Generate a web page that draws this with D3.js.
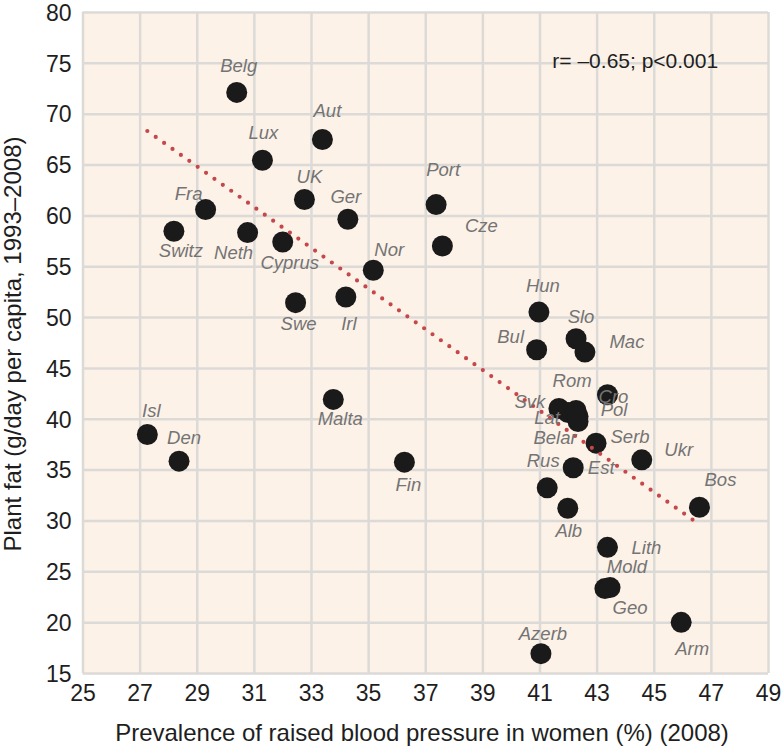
<!DOCTYPE html>
<html lang="en">
<head>
  <meta charset="UTF-8" />
  <title>Plant fat vs raised blood pressure</title>
  <script src="https://d3js.org/d3.v7.min.js"></script>
  <style>
    body {
      margin: 0;
      background: #ffffff;
      font-family: "Liberation Sans", Arial, sans-serif;
    }
    svg {
      display: block;
    }
  </style>
</head>
<body>
  <svg width="782" height="748"></svg>

  <script>
    // Country codes, as printed on the chart
    const countries = [
      "Belg", "Aut", "Lux", "UK", "Fra", "Ger", "Switz", "Neth", "Cyprus",
      "Port", "Cze", "Nor", "Swe", "Irl", "Malta", "Isl", "Den", "Fin",
      "Hun", "Bul", "Slo", "Mac", "Cro", "Svk", "Lat", "Rom", "Pol", "Belar",
      "Serb", "Ukr", "Est", "Rus", "Alb", "Lith", "Mold", "Geo", "Arm",
      "Azerb", "Bos"
    ];
    // Prevalence of raised blood pressure in women (%), 2008
    const bpWomen = [
      30.40, 33.40, 31.30, 32.77, 29.31, 34.29, 28.20, 30.78, 32.01,
      37.38, 37.60, 35.18, 32.46, 34.22, 33.78, 27.27, 28.38, 36.27,
      40.98, 40.90, 42.28, 42.59, 43.38, 41.68, 42.00, 42.28, 42.35, 42.35,
      42.98, 44.58, 42.18, 41.27, 41.99, 43.38, 43.29, 43.47, 45.96,
      41.05, 46.60
    ];
    // Plant fat (g/day per capita, 1993-2008)
    const plantFat = [
      72.09, 67.46, 65.42, 61.56, 60.57, 59.62, 58.44, 58.31, 57.38,
      61.06, 56.99, 54.60, 51.42, 51.97, 41.90, 38.45, 35.83, 35.73,
      50.49, 46.79, 47.87, 46.56, 42.36, 41.01, 40.62, 40.82, 40.23, 39.73,
      37.60, 35.96, 35.18, 33.21, 31.20, 27.36, 23.30, 23.40, 19.98,
      16.90, 31.30
    ];
    // Fitted regression line (end points)
    const trendX = [27.27, 46.40];
    const trendY = [68.3, 30.0];

    const xTicks = d3.range(25, 50, 2);
    const yTicks = d3.range(15, 81, 5);

    // label placement, offset from the dot centre (text centre x, baseline y)
    const labelPos = {
      Belg: [2, -20], Aut: [5, -23], Lux: [1, -21], UK: [5, -17], Fra: [-17, -10],
      Ger: [-2, -16], Switz: [7, 26], Neth: [-14, 26], Cyprus: [7, 27],
      Port: [7, -29], Cze: [39, -14], Nor: [16, -14], Swe: [3, 27], Irl: [3, 33],
      Malta: [7, 26], Isl: [4, -18], Den: [5, -17], Fin: [4, 29],
      Hun: [4, -20], Bul: [-26, -7], Slo: [5, -16], Mac: [42, -4], Cro: [6, 8],
      Svk: [-29, 0], Lat: [-21, 12], Rom: [-4, -23], Pol: [36, 0], Belar: [-23, 22],
      Serb: [34, 0], Ukr: [37, -4], Est: [28, 6], Rus: [-4, -21], Alb: [1, 29],
      Lith: [39, 7], Mold: [22, -16], Geo: [20, 26], Arm: [11, 33],
      Azerb: [2, -14], Bos: [21, -21]
    };

    const svg = d3.select("svg");
    const margin = { top: 12, right: 14, bottom: 75, left: 82.5 };
    const width = 782 - margin.left - margin.right;
    const height = 748 - margin.top - margin.bottom;

    const g = svg.append("g")
      .attr("transform", `translate(${margin.left},${margin.top})`);

    const x = d3.scaleLinear().domain([25, 49]).range([0, width]);
    const y = d3.scaleLinear().domain([15, 80]).range([height, 0]);

    // panel background
    g.append("rect")
      .attr("width", width)
      .attr("height", height)
      .attr("fill", "#fdf2e8");

    // grid
    const xAxis = g.append("g")
      .attr("transform", `translate(0,${height})`)
      .call(d3.axisBottom(x).tickValues(xTicks).tickSize(-height).tickPadding(12));
    const yAxis = g.append("g")
      .call(d3.axisLeft(y).tickValues(yTicks).tickSize(-width).tickPadding(11));

    [xAxis, yAxis].forEach(ax => {
      ax.select(".domain").remove();
      ax.selectAll(".tick line")
        .attr("stroke", "#dcdad7")
        .attr("stroke-width", 2.5);
      ax.selectAll(".tick text")
        .attr("fill", "#1e1e1e")
        .style("font-family", "'Liberation Sans', Arial, sans-serif")
        .style("font-size", "23px");
    });
    xAxis.selectAll(".tick text").attr("dy", "0.71em");
    yAxis.selectAll(".tick text").attr("dy", "0.36em");

    // data points
    const points = countries.map((c, i) => ({ name: c, bp: bpWomen[i], fat: plantFat[i] }));

    g.selectAll("circle.pt")
      .data(points)
      .enter()
      .append("circle")
      .attr("class", "pt")
      .attr("cx", d => x(d.bp))
      .attr("cy", d => y(d.fat))
      .attr("r", 10.5)
      .attr("fill", "#1b1a1a");

    // dotted regression line
    g.append("line")
      .attr("x1", x(trendX[0]))
      .attr("y1", y(trendY[0]))
      .attr("x2", x(trendX[1]))
      .attr("y2", y(trendY[1]))
      .attr("stroke", "#c5474a")
      .attr("stroke-width", 4.2)
      .attr("stroke-linecap", "round")
      .attr("stroke-dasharray", "0,10.3");

    // country labels
    g.selectAll("text.lbl")
      .data(points)
      .enter()
      .append("text")
      .attr("class", "lbl")
      .attr("x", d => x(d.bp) + labelPos[d.name][0])
      .attr("y", d => y(d.fat) + labelPos[d.name][1])
      .attr("text-anchor", "middle")
      .attr("fill", "#747474")
      .style("font-style", "italic")
      .style("font-size", "18.5px")
      .text(d => d.name);

    // correlation note
    g.append("text")
      .attr("x", x(41.45))
      .attr("y", y(74.45))
      .attr("fill", "#1e1e1e")
      .style("font-size", "21px")
      .text("r= \u20130.65; p<0.001");

    // axis titles
    svg.append("text")
      .attr("x", 422)
      .attr("y", 741)
      .attr("text-anchor", "middle")
      .attr("fill", "#1e1e1e")
      .style("font-size", "24px")
      .text("Prevalence of raised blood pressure in women (%) (2008)");

    svg.append("text")
      .attr("transform", "translate(21,344) rotate(-90)")
      .attr("text-anchor", "middle")
      .attr("fill", "#1e1e1e")
      .style("font-size", "24px")
      .text("Plant fat (g/day per capita, 1993\u20132008)");
  </script>
</body>
</html>
